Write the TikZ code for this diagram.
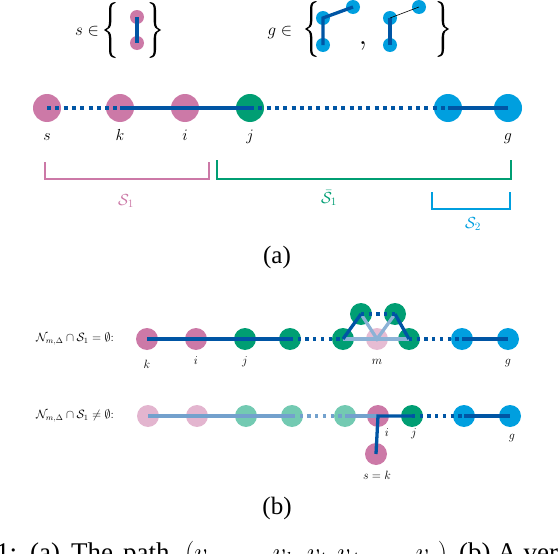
\RequirePackage{fix-cm}
\documentclass[tikz,border=0pt]{standalone}
\usepackage{fontspec}
\usepackage{graphicx}
\newfontfamily\timesf{Liberation Serif}
\definecolor{cpink}{HTML}{CC79A7}
\definecolor{cgreen}{HTML}{009E73}
\definecolor{cblue}{HTML}{009FDF}
\definecolor{cline}{HTML}{0055A4}
\tikzset{
  pics/setbrace/.style={code={
    \fill[black] (5.5,-28) .. controls (1,-27.5) and (-1,-26) .. (-1,-20) -- (-1,-8)
      .. controls (-1,-3) and (-3,-0.8) .. (-6,0)
      .. controls (-3,0.8) and (-1,3) .. (-1,8) -- (-1,20)
      .. controls (-1,26) and (1,27.5) .. (5.5,28)
      -- (5.5,27.3) .. controls (2.5,26.5) and (1.3,25) .. (1.3,20) -- (1.3,8)
      .. controls (1.3,3) and (-1,0.6) .. (-3.5,0)
      .. controls (-1,-0.6) and (1.3,-3) .. (1.3,-8) -- (1.3,-20)
      .. controls (1.3,-25) and (2.5,-26.5) .. (5.5,-27.3) -- cycle;
  }},
  dotnode/.style={circle, inner sep=0pt, minimum size=#1},
  bigA/.style={dotnode=28pt},
  midB/.style={dotnode=22pt},
  tinyT/.style={dotnode=14pt},
  solidA/.style={draw=cline, line width=4pt},
  dotA/.style={draw=cline, line width=4pt, dash pattern=on 4pt off 4.3pt},
  solidB/.style={draw=cline, line width=3.3pt},
  dotB/.style={draw=cline, line width=3.3pt, dash pattern=on 3.3pt off 4.4pt},
  fadeB/.style={draw=cline!45, line width=3.3pt},
  fadeB2/.style={draw=cline!55, line width=3.3pt},
  fadedotB/.style={draw=cline!55, line width=3.3pt, dash pattern=on 3.3pt off 4.4pt},
  labA/.style={anchor=base, inner sep=0pt, font=\fontsize{16}{18}\selectfont},
  labB/.style={anchor=base, inner sep=0pt, font=\fontsize{12}{14}\selectfont},
  bracket/.style={line width=2.2pt},
  sublab/.style={inner sep=0pt, font=\timesf\fontsize{25}{28}\selectfont},
}
\begin{document}
\begin{tikzpicture}[x=1pt, y=-1pt]
\useasboundingbox (0,0) rectangle (558,554);

% ---------- top sets ----------
\node[inner sep=0pt, anchor=base, font=\fontsize{17}{19}\selectfont] (sin) at (87,35) {$s\in$};
\pic at (110,30) {setbrace};
\pic[xscale=-1] at (155,30) {setbrace};
\node[tinyT, fill=cpink] (sa) at (137,17) {};
\node[tinyT, fill=cpink] (sb) at (137,43) {};
\draw[cline, line width=3.3pt] (sa.center) -- (sb.center);

\node[inner sep=0pt, anchor=base, font=\fontsize{17}{19}\selectfont] (gin) at (280,35) {$g\in$};
\pic at (311,29) {setbrace};
\pic[xscale=-1] at (443,29) {setbrace};
\node[inner sep=0pt, anchor=base, font=\fontsize{30}{32}\selectfont] (comma) at (363,44) {$,$};
\node[tinyT, fill=cblue] (ga1) at (323,45) {};
\node[tinyT, fill=cblue] (ga2) at (323,18) {};
\node[tinyT, fill=cblue] (ga3) at (353,7) {};
\draw[cline, line width=3.3pt] (ga1.center) -- (ga2.center) -- (ga3.center);
\node[tinyT, fill=cblue] (gb1) at (390,45) {};
\node[tinyT, fill=cblue] (gb2) at (390,18) {};
\node[tinyT, fill=cblue] (gb3) at (419,7) {};
\draw[cline, line width=3.3pt] (gb1.center) -- (gb2.center);
\draw[black, line width=0.6pt] (gb2.center) -- (gb3.center);

% ---------- (a) row ----------
\node[bigA, fill=cpink] (s) at (47,108) {};
\node[bigA, fill=cpink] (k) at (120,108) {};
\node[bigA, fill=cpink] (i) at (185,108) {};
\node[bigA, fill=cgreen] (j) at (250,108) {};
\node[bigA, fill=cblue] (g1) at (448,108) {};
\node[bigA, fill=cblue] (g) at (508,108) {};
\draw[dotA] (s.center) -- (k.center);
\draw[solidA] (k.center) -- (i.center) -- (j.center);
\draw[dotA] (j.center) -- (g1.center);
\draw[solidA] (g1.center) -- (g.center);
\node[labA] (ls) at (47,140) {$s$};
\node[labA] (lk) at (120,140) {$k$};
\node[labA] (li) at (185,140) {$i$};
\node[labA] (lj) at (250,140) {$j$};
\node[labA] (lg) at (508,140) {$g$};

% brackets
\draw[bracket, cpink] (45,162) -- (45,179) -- (209,179) -- (209,162);
\draw[bracket, cgreen] (217,160) -- (217,179) -- (511,179) -- (511,160);
\draw[bracket, cblue] (432,192) -- (432,209) -- (510,209) -- (510,192);
\node[inner sep=0pt, text=cpink, font=\fontsize{16}{18}\selectfont] (S1) at (126,201) {$\mathcal{S}_1$};
\node[inner sep=0pt, text=cgreen, font=\fontsize{16}{18}\selectfont] (S1b) at (329,198) {$\bar{\mathcal{S}}_1$};
\node[inner sep=0pt, text=cblue, font=\fontsize{16}{18}\selectfont] (S2) at (473,224) {$\mathcal{S}_2$};
\node[sublab] (capa) at (277,257) {(a)};

% ---------- (b) row 1 ----------
\node[inner sep=0pt, anchor=east, font=\fontsize{12}{14}\selectfont] (t1) at (114,339) {$\mathcal{N}_{m,\Delta}\cap\mathcal{S}_1=\emptyset$:};
\node[midB, fill=cpink] (k1) at (147,339) {};
\node[midB, fill=cpink] (i1) at (196,339) {};
\node[midB, fill=cgreen] (j1) at (245,339) {};
\node[midB, fill=cgreen] (n1) at (290,339) {};
\node[midB, fill=cgreen] (n2) at (343,339) {};
\node[midB, fill=cgreen] (u1) at (361,314) {};
\node[midB, fill=cgreen] (u2) at (395,314) {};
\node[midB, fill=cpink!50] (m) at (377,339) {};
\node[midB, fill=cgreen] (n3) at (409,339) {};
\node[midB, fill=cblue] (h1) at (462,339) {};
\node[midB, fill=cblue] (h2) at (508,339) {};
\draw[fadeB] (n2.center) -- (n3.center);
\draw[fadeB] (u1.center) -- (m.center) -- (u2.center);
\draw[solidB] (k1.center) -- (n1.center);
\draw[dotB] (n1.center) -- (n2.center);
\draw[solidB] (n2.center) -- (u1.center);
\draw[dotB] (u1.center) -- (u2.center);
\draw[solidB] (u2.center) -- (n3.center);
\draw[dotB] (n3.center) -- (h1.center);
\draw[solidB] (h1.center) -- (h2.center);
\node[labB] (lk1) at (147,368) {$k$};
\node[labB] (li1) at (196,364) {$i$};
\node[labB] (lj1) at (245,364) {$j$};
\node[labB] (lm1) at (377,364) {$m$};
\node[labB] (lg1) at (508,364) {$g$};

% ---------- (b) row 2 ----------
\node[inner sep=0pt, anchor=east, font=\fontsize{12}{14}\selectfont] (t2) at (114,416) {$\mathcal{N}_{m,\Delta}\cap\mathcal{S}_1\neq\emptyset$:};
\node[midB, fill=cpink!55] (p1) at (148,416) {};
\node[midB, fill=cpink!55] (p2) at (197,416) {};
\node[midB, fill=cgreen!55] (p3) at (246,416) {};
\node[midB, fill=cgreen!55] (p4) at (292,416) {};
\node[midB, fill=cgreen!55] (p5) at (345,416) {};
\node[midB, fill=cpink] (i2) at (378,416) {};
\node[midB, fill=cgreen] (j2) at (412,416) {};
\node[midB, fill=cblue] (q1) at (464,416) {};
\node[midB, fill=cblue] (q2) at (510,416) {};
\node[midB, fill=cpink] (sk) at (376,454) {};
\draw[fadeB2] (p1.center) -- (p4.center);
\draw[fadedotB] (p4.center) -- (p5.center);
\draw[fadeB2] (p5.center) -- (i2.center);
\draw[solidB] (sk.center) -- (i2.center) -- (j2.center);
\draw[dotB] (j2.center) -- (q1.center);
\draw[solidB] (q1.center) -- (q2.center);
\node[labB] (li2) at (387,436) {$i$};
\node[labB] (lj2) at (414,436) {$j$};
\node[labB] (lg2) at (512,439) {$g$};
\node[labB] (lsk) at (377,479) {$s=k$};
\node[sublab] (capb) at (277,508) {(b)};

% ---------- clipped caption ----------
\begin{scope}
\clip (0,0) rectangle (558,554);
\node[anchor=base west, inner sep=0pt, font=\timesf\fontsize{27}{30}\selectfont] (cap) at (-4,561)
 {\llap{Figure }\rlap{1:}\hspace*{34pt}\rlap{(a)}\hspace*{41pt}\rlap{The}\hspace*{52pt}\rlap{path}\hspace*{62pt}\rlap{\resizebox{262pt}{\height}{$\bigl(v_s,\ldots,v_k,v_i,v_j,\ldots,v_g\bigr)$}}\hspace*{274pt}(b) A vertex};
\end{scope}
\end{tikzpicture}
\end{document}
